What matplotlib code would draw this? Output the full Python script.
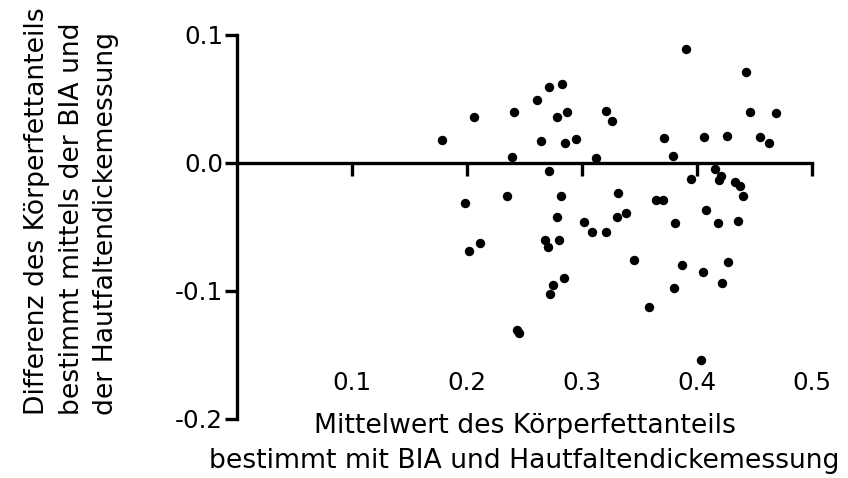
import matplotlib
matplotlib.use("Agg")
import matplotlib.pyplot as plt

plt.rcParams['font.family'] = ['DejaVu Sans']

# Mean body-fat fraction (x) and difference BIA - skinfold (y)
mean_vals = [0.178, 0.206, 0.241, 0.261, 0.271, 0.283, 0.278, 0.287, 0.321, 0.326,
             0.264, 0.285, 0.295, 0.239, 0.312, 0.271,
             0.390, 0.443, 0.446, 0.469, 0.371, 0.406, 0.426, 0.455, 0.463, 0.379,
             0.395, 0.416, 0.419, 0.421, 0.433, 0.437,
             0.440, 0.331, 0.338, 0.364, 0.370, 0.4075, 0.381, 0.418, 0.436, 0.3455,
             0.387, 0.4055, 0.427, 0.422, 0.380, 0.3585, 0.4035,
             0.1985, 0.2345, 0.2815, 0.2785, 0.302, 0.309, 0.3206, 0.330, 0.268, 0.270,
             0.280, 0.2015, 0.2116, 0.2846, 0.2745, 0.272, 0.2435, 0.2455]
diff_vals = [0.018, 0.036, 0.040, 0.049, 0.059, 0.0615, 0.036, 0.040, 0.041, 0.033,
             0.017, 0.016, 0.019, 0.0045, 0.0036, -0.006,
             0.089, 0.071, 0.040, 0.039, 0.0195, 0.0206, 0.021, 0.020, 0.016, 0.0055,
             -0.0127, -0.005, -0.013, -0.010, -0.015, -0.0177,
             -0.026, -0.0234, -0.039, -0.029, -0.0287, -0.0367, -0.047, -0.047, -0.045, -0.076,
             -0.080, -0.085, -0.0776, -0.094, -0.098, -0.1125, -0.154,
             -0.0315, -0.0258, -0.0255, -0.042, -0.046, -0.054, -0.054, -0.042, -0.060, -0.066,
             -0.060, -0.0688, -0.0628, -0.090, -0.0953, -0.1023, -0.1305, -0.1328]

x_ticks = [0.1, 0.2, 0.3, 0.4, 0.5]
x_tick_labels = ["0.1", "0.2", "0.3", "0.4", "0.5"]
y_ticks = [-0.2, -0.1, 0.0, 0.1]
y_tick_labels = ["-0.2", "-0.1", "0.0", "0.1"]

xlabel_line1 = "Mittelwert des Körperfettanteils"
xlabel_line2 = "bestimmt mit BIA und Hautfaltendickemessung"
ylabel = "Differenz des Körperfettanteils\nbestimmt mittels der BIA und\nder Hautfaltendickemessung"

fig = plt.figure(figsize=(8.48, 4.78), dpi=100)
ax = fig.add_axes([237/848, 59/478, 575/848, 384/478])

ax.scatter(mean_vals, diff_vals, s=46, color='black', linewidths=0, zorder=3)

ax.set_xlim(0, 0.5)
ax.set_ylim(-0.2, 0.1)

for side in ['top', 'right']:
    ax.spines[side].set_visible(False)
ax.spines['bottom'].set_position(('data', 0))
ax.spines['bottom'].set_linewidth(2.4)
ax.spines['left'].set_linewidth(2.4)
ax.spines['bottom'].set_capstyle('projecting')
ax.spines['left'].set_capstyle('projecting')

ax.set_xticks(x_ticks)
ax.set_xticklabels(x_tick_labels)
ax.set_yticks(y_ticks)
ax.set_yticklabels(y_tick_labels)

ax.tick_params(axis='x', direction='out', length=9, width=2.4, pad=141,
               labelsize=17.7, colors='black')
ax.tick_params(axis='y', direction='out', length=9, width=2.4, pad=1,
               labelsize=17.7, colors='black')

ax.set_xlabel(xlabel_line1, fontsize=19.2, ha='center', va='baseline')
ax.xaxis.set_label_coords(0.5, -0.0365)
ax.text(0.5, -0.128, xlabel_line2, transform=ax.transAxes, fontsize=19.2,
        ha='center', va='baseline')

ax.set_ylabel(ylabel, fontsize=19.2, linespacing=1.42, ha='left', multialignment='left')
ax.yaxis.set_label_coords(-0.205, 0.01)

fig.savefig("out.png", dpi=100)
